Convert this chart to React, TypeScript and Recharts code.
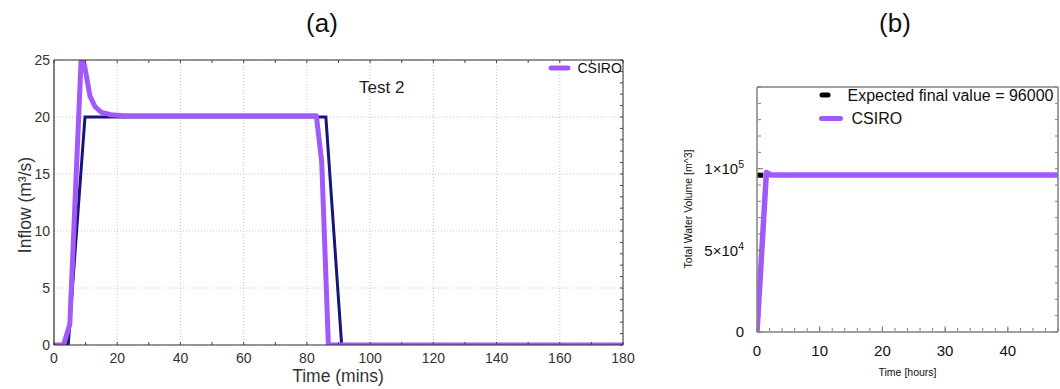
import React from "react";
import { LineChart, Line, XAxis, YAxis, CartesianGrid } from "recharts";

// ---------- Panel (a) data ----------
const aXTicks = [0, 20, 40, 60, 80, 100, 120, 140, 160, 180];
const aXMinorTicks = [0, 10, 20, 30, 40, 50, 60, 70, 80, 90, 100, 110, 120, 130, 140, 150, 160, 170, 180];
const aYTicks = [0, 5, 10, 15, 20, 25];
const aYMinorTicks = [0, 1, 2, 3, 4, 5, 6, 7, 8, 9, 10, 11, 12, 13, 14, 15, 16, 17, 18, 19, 20, 21, 22, 23, 24, 25];

const benchmarkA = [
  { t: 0, v: 0 },
  { t: 4.5, v: 0 },
  { t: 9.8, v: 20 },
  { t: 86, v: 20 },
  { t: 91, v: 0 },
  { t: 180, v: 0 },
];

const csiroA = [
  { t: 0, v: 0 },
  { t: 3, v: 0 },
  { t: 5, v: 1.8 },
  { t: 8.6, v: 25.2 },
  { t: 9.6, v: 24.6 },
  { t: 11.4, v: 21.8 },
  { t: 13, v: 20.9 },
  { t: 15, v: 20.4 },
  { t: 18, v: 20.2 },
  { t: 22, v: 20.1 },
  { t: 83, v: 20.1 },
  { t: 84.7, v: 16 },
  { t: 86.8, v: 0 },
  { t: 180, v: 0 },
];

// ---------- Panel (b) data ----------
const bXTicks = [0, 10, 20, 30, 40];
const bXMinorTicks = [0, 2, 4, 6, 8, 10, 12, 14, 16, 18, 20, 22, 24, 26, 28, 30, 32, 34, 36, 38, 40, 42, 44, 46, 48];
const bYTicks = [0, 50000, 100000];
const bYTickMain = ["0", "5×10", "1×10"];
const bYTickSup = ["", "4", "5"];
const bYMinorTicks = [0, 10000, 20000, 30000, 40000, 50000, 60000, 70000, 80000, 90000, 100000, 110000, 120000, 130000, 140000, 150000];

const csiroB = [
  { t: 0, v: 0 },
  { t: 1.5, v: 97700 },
  { t: 2.2, v: 96150 },
  { t: 48, v: 96150 },
];

const expectedB = [
  { t: 0, v: 96000 },
  { t: 1.0, v: 96000 },
];

const PURPLE = "#a259fa";
const NAVY = "#16167a";

const noTick = () => <g />;

const BYTick = (props: any) => {
  const { x, y, payload } = props;
  const i = bYTicks.indexOf(payload.value);
  if (i < 0) return <g />;
  return (
    <text
      x={x}
      y={y}
      dy="0.355em"
      textAnchor="end"
      fill="#111"
      fontSize={15}
      fontFamily="Liberation Sans"
    >
      {bYTickMain[i]}
      {bYTickSup[i] ? (
        <tspan dy={-6} fontSize={10.5}>
          {bYTickSup[i]}
        </tspan>
      ) : null}
    </text>
  );
};

export default function App() {
  return (
    <div
      style={{
        position: "fixed",
        left: 0,
        top: 0,
        width: 1060,
        height: 389,
        background: "#fff",
        overflow: "hidden",
      }}
    >
      {/* Panel (a) */}
      <div style={{ position: "absolute", left: 0, top: 0 }}>
        <LineChart
          width={640}
          height={389}
          margin={{ top: 60, left: 53, right: 17, bottom: 43 }}
        >
          <CartesianGrid stroke="#c4c4c4" strokeDasharray="1 2" />
          <XAxis
            type="number"
            dataKey="t"
            domain={[0, 180]}
            ticks={aXTicks}
            allowDataOverflow
            height={1}
            tickSize={0}
            tickMargin={8}
            axisLine={{ stroke: "#333", strokeWidth: 1.2 }}
            tickLine={false}
            tick={{ fill: "#333", fontSize: 14, fontFamily: "Liberation Sans" }}
            interval={0}
          />
          <XAxis
            xAxisId="bm"
            type="number"
            dataKey="t"
            domain={[0, 180]}
            ticks={aXMinorTicks}
            allowDataOverflow
            height={1}
            mirror
            tickSize={3}
            axisLine={false}
            tickLine={{ stroke: "#444" }}
            tick={noTick}
            interval={0}
          />
          <XAxis
            xAxisId="t"
            orientation="top"
            type="number"
            dataKey="t"
            domain={[0, 180]}
            ticks={aXMinorTicks}
            allowDataOverflow
            height={1}
            mirror
            tickSize={3}
            axisLine={{ stroke: "#333" }}
            tickLine={{ stroke: "#444" }}
            tick={noTick}
            interval={0}
          />
          <YAxis
            type="number"
            domain={[0, 25]}
            ticks={aYTicks}
            allowDataOverflow
            width={1}
            tickSize={0}
            tickMargin={4}
            axisLine={{ stroke: "#333", strokeWidth: 1.2 }}
            tickLine={false}
            tick={{ fill: "#333", fontSize: 14, fontFamily: "Liberation Sans" }}
            interval={0}
          />
          <YAxis
            yAxisId="r"
            orientation="right"
            type="number"
            domain={[0, 25]}
            ticks={aYMinorTicks}
            allowDataOverflow
            width={1}
            mirror
            tickSize={3}
            axisLine={{ stroke: "#333" }}
            tickLine={{ stroke: "#444" }}
            tick={noTick}
            interval={0}
          />
          <Line
            data={benchmarkA}
            dataKey="v"
            type="linear"
            stroke={NAVY}
            strokeWidth={3}
            dot={false}
            isAnimationActive={false}
          />
          <Line
            data={csiroA}
            dataKey="v"
            type="linear"
            stroke={PURPLE}
            strokeWidth={5}
            dot={false}
            strokeLinejoin="round"
            isAnimationActive={false}
          />
        </LineChart>
      </div>

      {/* Panel (b) */}
      <div style={{ position: "absolute", left: 660, top: 0 }}>
        <LineChart
          width={400}
          height={389}
          margin={{ top: 87, left: 96, right: 2, bottom: 56 }}
        >
          <XAxis
            type="number"
            dataKey="t"
            domain={[0, 48]}
            ticks={bXTicks}
            allowDataOverflow
            height={1}
            tickSize={0}
            tickMargin={13}
            axisLine={{ stroke: "#808080", strokeWidth: 1.5 }}
            tickLine={false}
            tick={{ fill: "#111", fontSize: 15, fontFamily: "Liberation Sans" }}
            interval={0}
          />
          <XAxis
            xAxisId="bm"
            type="number"
            dataKey="t"
            domain={[0, 48]}
            ticks={bXMinorTicks}
            allowDataOverflow
            height={1}
            mirror
            tickSize={3}
            axisLine={false}
            tickLine={{ stroke: "#808080" }}
            tick={noTick}
            interval={0}
          />
          <XAxis
            xAxisId="bM"
            type="number"
            dataKey="t"
            domain={[0, 48]}
            ticks={bXTicks}
            allowDataOverflow
            height={1}
            mirror
            tickSize={6}
            axisLine={false}
            tickLine={{ stroke: "#808080" }}
            tick={noTick}
            interval={0}
          />
          <XAxis
            xAxisId="t"
            orientation="top"
            type="number"
            dataKey="t"
            domain={[0, 48]}
            ticks={bXTicks}
            allowDataOverflow
            height={1}
            mirror
            tickSize={0}
            axisLine={{ stroke: "#808080", strokeWidth: 1.5 }}
            tickLine={false}
            tick={noTick}
            interval={0}
          />
          <YAxis
            type="number"
            domain={[0, 150000]}
            ticks={bYTicks}
            allowDataOverflow
            width={1}
            tickSize={0}
            tickMargin={13}
            axisLine={{ stroke: "#808080", strokeWidth: 1.5 }}
            tickLine={false}
            tick={BYTick}
            interval={0}
          />
          <YAxis
            yAxisId="lm"
            type="number"
            domain={[0, 150000]}
            ticks={bYMinorTicks}
            allowDataOverflow
            width={1}
            mirror
            tickSize={3}
            axisLine={false}
            tickLine={{ stroke: "#808080" }}
            tick={noTick}
            interval={0}
          />
          <YAxis
            yAxisId="lM"
            type="number"
            domain={[0, 150000]}
            ticks={bYTicks}
            allowDataOverflow
            width={1}
            mirror
            tickSize={6}
            axisLine={false}
            tickLine={{ stroke: "#808080" }}
            tick={noTick}
            interval={0}
          />
          <YAxis
            yAxisId="r"
            orientation="right"
            type="number"
            domain={[0, 150000]}
            ticks={bYMinorTicks}
            allowDataOverflow
            width={1}
            mirror
            tickSize={3}
            axisLine={{ stroke: "#808080", strokeWidth: 1.5 }}
            tickLine={{ stroke: "#808080" }}
            tick={noTick}
            interval={0}
          />
          <Line
            data={expectedB}
            dataKey="v"
            type="linear"
            stroke="#000"
            strokeWidth={5}
            dot={false}
            isAnimationActive={false}
          />
          <Line
            data={csiroB}
            dataKey="v"
            type="linear"
            stroke={PURPLE}
            strokeWidth={5.5}
            dot={false}
            strokeLinejoin="round"
            isAnimationActive={false}
          />
        </LineChart>
      </div>

      {/* Text overlay */}
      <svg
        width={1060}
        height={389}
        style={{ position: "absolute", left: 0, top: 0, pointerEvents: "none" }}
      >
        <g fontFamily="Liberation Sans" fill="#111">
          <text x={322} y={32} fontSize={26} textAnchor="middle">(a)</text>
          <text x={895} y={32} fontSize={26} textAnchor="middle">(b)</text>

          <text x={359} y={93} fontSize={17} fill="#222">Test 2</text>
          <line x1={551} x2={568} y1={68} y2={68} stroke={PURPLE} strokeWidth={5} strokeLinecap="round" />
          <text x={577.5} y={72.7} fontSize={14}>CSIRO</text>

          <text x={338} y={381.5} fontSize={17.5} textAnchor="middle" fill="#333">Time (mins)</text>
          <text
            x={0}
            y={0}
            fontSize={17.5}
            textAnchor="middle"
            fill="#333"
            transform="translate(31,205) rotate(-90)"
          >
            Inflow (m³/s)
          </text>

          <line x1={822} x2={828} y1={95} y2={95} stroke="#000" strokeWidth={5} strokeLinecap="round" />
          <text x={847.5} y={100.5} fontSize={16}>Expected final value = 96000</text>
          <line x1={821.5} x2={840.5} y1={118.5} y2={118.5} stroke={PURPLE} strokeWidth={5} strokeLinecap="round" />
          <text x={851.5} y={123.5} fontSize={16}>CSIRO</text>

          <text x={907.5} y={376} fontSize={10.5} textAnchor="middle">Time [hours]</text>
          <text
            x={0}
            y={0}
            fontSize={10.5}
            textAnchor="middle"
            transform="translate(691.5,209) rotate(-90)"
          >
            Total Water Volume [m^3]
          </text>
        </g>
      </svg>
    </div>
  );
}
